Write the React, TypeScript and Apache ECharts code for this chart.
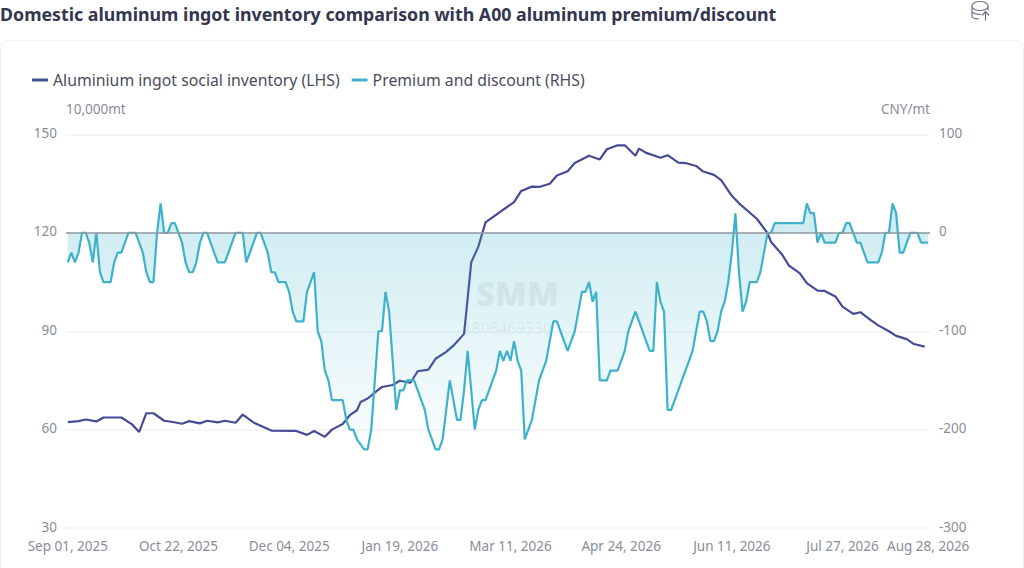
import React, { useEffect, useRef } from "react";
import * as echarts from "echarts";

const FONT = "'Noto Sans', 'Open Sans', sans-serif";
const titleText = "Domestic aluminum ingot inventory comparison with A00 aluminum premium/discount";
const leftName = "10,000mt";
const rightName = "CNY/mt";
const seriesNames = ["Aluminium ingot social inventory (LHS)", "Premium and discount (RHS)"];

// Non-trading weekdays in the period
const closedDays = [
  "2025-10-01", "2025-10-02", "2025-10-03", "2025-10-06", "2025-10-07", "2025-10-08",
  "2026-01-01", "2026-02-16", "2026-02-17", "2026-02-18", "2026-02-19", "2026-02-20",
  "2026-02-23", "2026-04-06", "2026-05-01", "2026-05-04", "2026-05-05", "2026-06-19",
];
const firstDay = "2025-09-01";
const lastDay = "2026-08-28";
const months = ["Jan", "Feb", "Mar", "Apr", "May", "Jun", "Jul", "Aug", "Sep", "Oct", "Nov", "Dec"];

const categories: string[] = [];
for (let t = Date.parse(firstDay); t <= Date.parse(lastDay); t += 86400000) {
  const d = new Date(t);
  const iso = d.toISOString().slice(0, 10);
  if (d.getUTCDay() === 0 || d.getUTCDay() === 6 || closedDays.includes(iso)) continue;
  categories.push(`${months[d.getUTCMonth()]} ${iso.slice(8, 10)}, ${iso.slice(0, 4)}`);
}

// Inventory is reported twice a week: report position in the day list, and value
const inventoryAt = [
  0, 3, 5, 8, 10, 15, 18, 20, 22, 24, 27, 29, 32, 34, 37, 39, 42, 44, 47, 49, 52, 54, 57, 64, 67, 69, 72, 74, 77, 79,
  81, 82, 84, 87, 88, 91, 93, 96, 98, 101, 103, 106, 108, 111, 113, 115, 117, 125, 127, 130, 132, 135, 137, 140, 142,
  146, 149, 151, 154, 156, 159, 160, 162, 166, 168, 171, 173, 176, 178, 181, 183, 186, 188, 193, 196, 197, 200, 202,
  205, 207, 210, 212, 215, 217, 220, 222, 225, 227, 230, 232, 235, 237, 240,
];
const inventoryValues = [
  62.3, 62.6, 63.1, 62.5, 63.7, 63.7, 61.6, 59.3, 65, 65, 62.7, 62.4, 61.8, 62.6, 61.9, 62.7, 62.2, 62.7, 62.1, 64.6,
  62.2, 61.2, 59.7, 59.6, 58.4, 59.6, 57.8, 60, 61.7, 64.4, 65.9, 68.4, 69.5, 72.2, 73, 73.6, 74.9, 74.3, 77.8, 78.3,
  81.6, 83.7, 85.6, 89.2, 111, 115.8, 123.2, 129.4, 132.8, 134.1, 134, 135, 137.5, 138.8, 141.3, 143.5, 142.4, 145.5,
  146.7, 146.7, 143.5, 145.7, 144.4, 142.9, 143.7, 141.4, 141.3, 140.4, 138.7, 137.7, 136.1, 131.3, 129, 124.3, 119.9,
  117.2, 113.5, 110, 107.7, 104.7, 102.4, 102.3, 100.6, 97.5, 95.3, 95.8, 93.3, 91.8, 90, 88.6, 87.6, 86.1, 85.3,
];

const premiumValues = [
  -30, -20, -30, -20, 0, 0, -10, -30, 0, -40, -50, -50, -50, -30, -20, -20, -10, 0, 0, 0, -10, -20, -40, -50, -50, 0,
  30, 0, 0, 10, 10, 0, -10, -30, -40, -40, -30, -10, 0, 0, -10, -20, -30, -30, -30, -20, -10, 0, 0, 0, -30, -20, -10,
  0, 0, -10, -20, -40, -40, -50, -50, -50, -60, -80, -90, -90, -90, -60, -50, -40, -100, -110, -140, -150, -170, -170,
  -170, -170, -190, -200, -200, -210, -215, -220, -220, -200, -150, -100, -100, -60, -80, -130, -180, -160, -160, -150,
  -150, -150, -160, -170, -180, -200, -210, -220, -220, -210, -180, -150, -170, -190, -190, -160, -120, -160, -200,
  -180, -170, -170, -160, -150, -140, -120, -130, -120, -130, -110, -130, -140, -210, -200, -190, -170, -150, -140,
  -130, -110, -90, -90, -100, -110, -120, -110, -100, -80, -60, -60, -50, -70, -60, -150, -150, -150, -140, -140, -140,
  -130, -120, -100, -90, -80, -90, -100, -110, -120, -120, -50, -70, -80, -180, -180, -170, -160, -150, -140, -130,
  -120, -100, -80, -80, -90, -110, -110, -100, -80, -70, -50, -20, 20, -40, -80, -70, -50, -50, -50, -40, -20, 0, 0,
  10, 10, 10, 10, 10, 10, 10, 10, 10, 30, 20, 20, -10, 0, -10, -10, -10, -10, 0, 0, 10, 10, 0, -10, -10, -20, -30, -30,
  -30, -30, -20, 0, 0, 30, 20, -20, -20, -10, 0, 0, 0, -10, -10, -10,
];

const inventoryData: (number | null)[] = categories.map(() => null);
inventoryAt.forEach((p, i) => {
  inventoryData[p] = inventoryValues[i];
});

const iconPath =
  "M972 6a8 4.5 0 1 0 16 0a8 4.5 0 1 0 -16 0M972 6V16.5Q972 18.5 979 19M972 11.5Q973 14 981 14.5M988 6V10.5" +
  "M985.5 20.5V12M982 15.5L985.5 11.5L989 15.5";
echarts.graphic.registerShape("dbUpload", echarts.graphic.extendPath(iconPath as any, {}) as any);

export default function App() {
  const ref = useRef<HTMLDivElement>(null);
  useEffect(() => {
    const chart = echarts.init(ref.current!, undefined, { renderer: "svg" });
    chart.setOption({
      animation: false,
      backgroundColor: "#ffffff",
      textStyle: { fontFamily: FONT },
      title: {
        text: titleText,
        left: 0,
        top: 5,
        padding: 0,
        textStyle: { fontFamily: FONT, fontSize: 17.8, fontWeight: 700, color: "#33364f" },
      },
      graphic: [
        {
          type: "rect",
          z: -10,
          shape: { x: 0.5, y: 40.5, width: 1023, height: 600, r: 8 },
          style: { fill: "#ffffff", stroke: "#eef0f8", lineWidth: 1 },
        },
        {
          type: "dbUpload",
          z: 5,
          x: 0,
          y: 0,
          style: { fill: "none", stroke: "#70758a", lineWidth: 1.2 },
        },
        {
          type: "text",
          z: 0,
          x: 476,
          y: 277,
          style: { text: "SMM", font: "900 33px 'Noto Sans'", fill: "rgba(120,135,145,0.12)" },
        },
        {
          type: "text",
          z: 0,
          x: 463,
          y: 320,
          style: { text: "1806469330", font: "15.5px 'Noto Sans'", fill: "rgba(120,135,145,0.12)" },
        },
      ],
      legend: {
        left: 32,
        top: 72,
        padding: 0,
        itemWidth: 16,
        itemHeight: 3,
        itemGap: 12,
        icon: "roundRect",
        textStyle: { fontFamily: FONT, fontSize: 15.8, color: "#4a4d5c" },
        data: seriesNames,
      },
      grid: { left: 66, right: 94, top: 134.5, bottom: 40, containLabel: false },
      xAxis: {
        type: "category",
        data: categories,
        boundaryGap: true,
        axisLine: { show: false },
        axisTick: { show: false },
        axisLabel: {
          color: "#8a8d99",
          fontSize: 13.5,
          fontFamily: FONT,
          margin: 11,
          interval: (i: number) => i % 31 === 0 || i === categories.length - 1,
        },
      },
      yAxis: [
        {
          type: "value",
          min: 30,
          max: 150,
          interval: 30,
          name: leftName,
          nameLocation: "end",
          nameGap: 19,
          nameTextStyle: { color: "#8a8d99", fontSize: 13.5, align: "left", fontFamily: FONT },
          axisLine: { show: false },
          axisTick: { show: false },
          axisLabel: {
            color: "#8a8d99",
            fontSize: 13.5,
            margin: 9,
            fontFamily: FONT,
            verticalAlign: "bottom",
            lineHeight: 3,
          },
          splitLine: { lineStyle: { color: "#f2f2f9", width: 1.5 } },
        },
        {
          type: "value",
          min: -300,
          max: 100,
          interval: 100,
          position: "right",
          name: rightName,
          nameLocation: "end",
          nameGap: 19,
          nameTextStyle: { color: "#8a8d99", fontSize: 13.5, align: "right", fontFamily: FONT },
          axisLine: { show: false },
          axisTick: { show: false },
          axisLabel: {
            color: "#8a8d99",
            fontSize: 13.5,
            margin: 9,
            fontFamily: FONT,
            verticalAlign: "bottom",
            lineHeight: 3,
          },
          splitLine: { show: false },
        },
      ],
      series: [
        {
          name: seriesNames[0],
          type: "line",
          yAxisIndex: 0,
          data: inventoryData,
          connectNulls: true,
          showSymbol: false,
          symbol: "none",
          lineStyle: { color: "#464c94", width: 2.2 },
          itemStyle: { color: "#464c94" },
          z: 3,
        },
        {
          name: seriesNames[1],
          type: "line",
          yAxisIndex: 1,
          data: premiumValues,
          showSymbol: false,
          symbol: "none",
          lineStyle: { color: "#3db2ca", width: 2.2 },
          itemStyle: { color: "#3db2ca" },
          areaStyle: {
            color: new echarts.graphic.LinearGradient(0, 0, 0, 1, [
              { offset: 0, color: "rgba(61,178,202,0.38)" },
              { offset: 1, color: "rgba(61,178,202,0.03)" },
            ]),
          },
          markLine: {
            silent: true,
            symbol: "none",
            label: { show: false },
            lineStyle: { color: "#8f98a0", width: 1.5, type: "solid" },
            data: [{ yAxis: 0 }],
          },
          z: 4,
        },
      ],
    });
    return () => chart.dispose();
  }, []);
  return <div ref={ref} style={{ position: "fixed", left: 0, top: 0, width: 1024, height: 568 }} />;
}
